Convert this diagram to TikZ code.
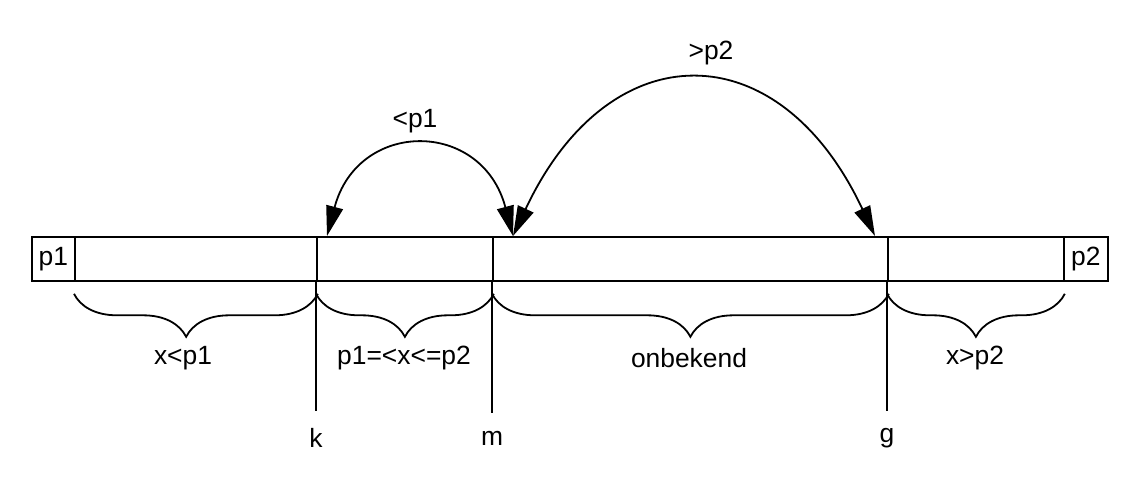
\documentclass[tikz,border=0pt]{standalone}
\usepackage{fontspec}
\setmainfont{Liberation Sans}
\usetikzlibrary{arrows.meta,decorations.pathreplacing}
\begin{document}
\begin{tikzpicture}[x=0.5pt, y=-0.5pt, line width=0.9pt, >={Triangle[length=15pt,width=8.5pt]},
        font=\fontsize{13.2}{16}\selectfont]
        \tikzstyle{cell} = [draw, rectangle, anchor=north west, minimum height=22pt, inner sep=0pt]
        \tikzstyle{brace} = [decorate, decoration={brace, mirror, amplitude=21.5pt}]

        \useasboundingbox (0,0) rectangle (1130,478);

        % the array
        \node [cell, minimum width=21.5pt] (p1) at (31,236) {p1};
        \node [cell, minimum width=121pt] (left) at (74,236) {};
        \node [cell, minimum width=88pt] (mid) at (316,236) {};
        \node [cell, minimum width=197.5pt] (unk) at (492,236) {};
        \node [cell, minimum width=88pt] (right) at (887,236) {};
        \node [cell, minimum width=22pt] (p2) at (1063,236) {p2};

        % indices
        \node (k) at (316,438) {k};
        \node (m) at (492,438) {m};
        \node (g) at (887,438) {g};
        \draw (mid.south west) -- ([yshift=5pt]k.north);
        \draw (unk.south west) -- ([yshift=5pt]m.north);
        \draw (right.south west) -- ([yshift=5pt]g.north);

        % braces
        \draw [brace, decoration={aspect=0.46}] ([yshift=-6pt]left.south west) -- ([yshift=-6pt]left.south east);
        \draw [brace] ([yshift=-6pt]mid.south west) -- ([yshift=-6pt]mid.south east);
        \draw [brace] ([yshift=-6pt]unk.south west) -- ([yshift=-6pt]unk.south east);
        \draw [brace] ([yshift=-6pt]right.south west) -- ([yshift=-6pt]right.south east);
        \node (lt) at (183,358) {x<p1};
        \node (bw) at (404,358) {p1=<x<=p2};
        \node (ob) at (689,358) {onbekend};
        \node (gt) at (975,358) {x>p2};

        % swaps
        \draw [<->] ([xshift=10.5pt]unk.north west) .. controls +(-31,-117) and +(31,-117) .. ([xshift=5.5pt]mid.north west);
        \draw [<->] ([xshift=10.5pt]unk.north west) .. controls +(96,-205) and +(-96,-205) .. ([xshift=-6pt]right.north west);
        \node (lp1) at (415,121) {<p1};
        \node (gp2) at (711,53) {>p2};
    \end{tikzpicture}
\end{document}
